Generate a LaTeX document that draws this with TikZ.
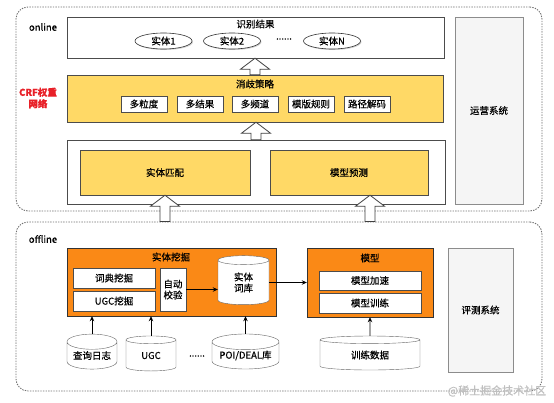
\documentclass[tikz,border=0pt]{standalone}
\usepackage{fontspec}
\setmainfont{Noto Sans CJK SC}[FakeBold=0.5]
\definecolor{gold}{RGB}{255,217,102}
\definecolor{amber}{RGB}{250,137,22}
\definecolor{alert}{RGB}{232,32,40}
\definecolor{soft}{RGB}{112,112,112}
\usetikzlibrary{arrows.meta,positioning,shapes.geometric,shadows,calc}
\tikzset{
  shade/.style={drop shadow={shadow xshift=1pt, shadow yshift=-1pt, opacity=0.35}},
  plain/.style={draw=black!70, fill=white, inner sep=0pt, shade},
  goldbox/.style={draw=black!70, fill=gold, inner sep=0pt, shade},
  amberbox/.style={draw=black!80, fill=amber, inner sep=0pt, shade},
  sysbox/.style={draw=black!45, fill=black!4, inner sep=0pt, shade},
  chip/.style={plain, minimum width=46, minimum height=16},
  blob/.style={ellipse, draw=black!80, fill=white, inner sep=0pt, line width=0.6pt,
               minimum width=57, minimum height=16, shade},
  tank/.style={cylinder, shape border rotate=90, draw=black!60, fill=white,
               inner sep=0pt, align=center},
  zone/.style={draw=soft, line width=0.9pt, dash pattern=on 1.4pt off 1.2pt,
               rounded corners=12pt, inner sep=0pt},
  lbl/.style={inner sep=0pt},
  flow/.style={-{Stealth[length=5pt, width=4.5pt]}, black, line width=0.8pt},
  fat/.style={draw=black!75, fill=white, line width=0.8pt},
}
\newcommand{\fatarrow}[2]{%
  \draw[fat] let \p1=(#1), \p2=(#2) in
    (\x1-5pt,\y1) -- (\x1-5pt,\y2-11pt) -- (\x1-14.5pt,\y2-11pt) -- (\x1,\y2)
    -- (\x1+14.5pt,\y2-11pt) -- (\x1+5pt,\y2-11pt) -- (\x1+5pt,\y1) -- cycle;}

\begin{document}
\begin{tikzpicture}[x=1pt, y=-1pt, font=\fontsize{9.5}{11}\selectfont]
  \useasboundingbox (0,0) rectangle (554,402);
  % online
  \node[zone, minimum width=526, minimum height=204] (online) at (279,109) {};
  \node[lbl] (onlbl) at (43,27) {online};
  \node[lbl, text=alert, font=\fontsize{9.5}{11.5}\selectfont\bfseries, align=center] (crf) at (38,98) {CRF权重\\网络};
  \node[plain, minimum width=377, minimum height=41] (res) at (255.5,37.5) {};
  \node[lbl] (restit) at (255.5,24) {识别结果};
  \node[blob] (ent1) at (163.5,41) {实体1};
  \node[blob] (ent2) at (232,41) {实体2};
  \node[lbl] (entdots) at (284,39) {......};
  \node[blob] (entN) at (332,41) {实体N};
  \node[goldbox, minimum width=376, minimum height=47] (strat) at (255,98.5) {};
  \node[lbl] (strattit) at (255,84) {消歧策略};
  \foreach \x/\t [count=\i] in {144/多粒度, 200/多结果, 255/多频道, 311/模版规则, 367/路径解码}
    \node[chip] (s\i) at (\x,104) {\t};
  \node[plain, minimum width=378, minimum height=64] (apply) at (256,172) {};
  \node[goldbox, minimum width=170, minimum height=45] (match) at (165,172.5) {实体匹配};
  \node[goldbox, minimum width=158, minimum height=45] (pred) at (349,172.5) {模型预测};
  \node[sysbox, minimum width=68, minimum height=187] (ops) at (489,110.5) {运营系统};
  \fatarrow{strat.north}{res.south}
  \fatarrow{apply.north}{strat.south}
  % offline
  \node[zone, minimum width=526, minimum height=169] (offline) at (279,306.5) {};
  \node[lbl] (offlbl) at (43,239) {offline};
  \node[amberbox, minimum width=209, minimum height=68] (mine) at (171.5,282) {};
  \node[lbl] (minetit) at (171,257) {实体挖掘};
  \node[plain, minimum width=82, minimum height=20] (dict) at (114,278) {词典挖掘};
  \node[plain, minimum width=82, minimum height=20] (ugcmine) at (114,301) {UGC挖掘};
  \node[plain, minimum width=26, minimum height=43, align=center] (verify) at (173,289.5) {自动\\校验};
  \node[tank, minimum width=51, minimum height=49, aspect=0.47] (lib) at (243.5,282.5) {实体\\词库};
  \node[amberbox, minimum width=126, minimum height=69] (model) at (370,282.5) {};
  \node[lbl] (modeltit) at (370,258) {模型};
  \node[plain, minimum width=102, minimum height=19] (accel) at (370,280.5) {模型加速};
  \node[plain, minimum width=102, minimum height=20] (train) at (370,303) {模型训练};
  \node[sysbox, minimum width=65, minimum height=124] (eval) at (480.5,310) {评测系统};
  \node[tank, minimum width=100, minimum height=34, aspect=0.2] (data) at (370,355) {训练数据};
  \node[tank, minimum width=50, minimum height=35, aspect=0.4] (qlog) at (92,355.5) {查询日志};
  \node[tank, minimum width=50, minimum height=35, aspect=0.4] (ugc) at (151,355.5) {UGC};
  \node[lbl] (srcdots) at (197,356) {......};
  \node[tank, minimum width=67, minimum height=35, aspect=0.3] (poi) at (245.5,355.5) {POI/DEAL库};
  \draw[flow] (verify.east) -- (verify.east -| lib.west);
  \draw[flow] (lib.east) -- (lib.east -| model.west);
  \draw[flow] (qlog.north) -- (qlog.north |- mine.south);
  \draw[flow] (ugc.north) -- (ugc.north |- mine.south);
  \draw[flow] (poi.north) -- (poi.north |- mine.south);
  \draw[flow] (data.north) -- (model.south);
  \fatarrow{match.south |- offline.north}{match.south}
  \fatarrow{model.north |- offline.north}{model.north |- pred.south}
  \node[text=black!25, font=\fontsize{11}{13}\selectfont] (mark) at (497,391) {@稀土掘金技术社区};
\end{tikzpicture}
\end{document}
